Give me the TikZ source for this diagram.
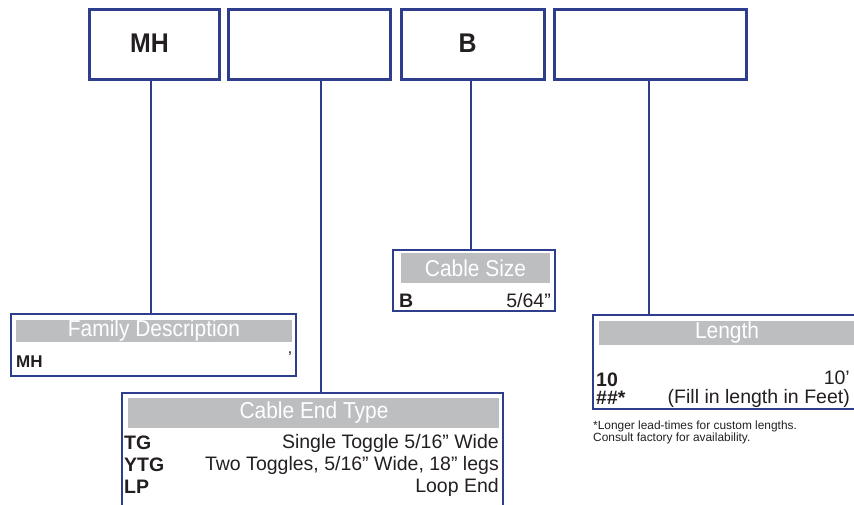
\documentclass[tikz,border=0pt]{standalone}
\usepackage{fontspec}
\setmainfont{Liberation Sans}
\definecolor{navy}{RGB}{46,62,140}
\definecolor{hdrgray}{RGB}{188,190,192}
\definecolor{ink}{RGB}{35,31,32}
\newcommand{\hcond}[1]{\scalebox{0.91}[1]{#1}}
\newcommand{\bcond}[1]{\scalebox{0.92}[1]{#1}}
\begin{document}
\begin{tikzpicture}[x=1pt,y=-1pt,
  topbox/.style={draw=navy,line width=2.6pt,minimum width=#1,minimum height=70pt,inner sep=0pt,anchor=north west},
  toptxt/.style={inner sep=0pt,font=\fontsize{27}{27}\selectfont\bfseries,text=ink},
  conn/.style={draw=navy,line width=1.3pt},
  infobox/.style={draw=navy,line width=1.3pt},
  hdr/.style={fill=hdrgray},
  hdrtxt/.style={text=white,inner sep=0pt,font=\fontsize{23}{23}\selectfont},
  rowl/.style={anchor=west,inner sep=0pt,text=ink,font=\fontsize{#1}{#1}\selectfont\bfseries},
  rowr/.style={anchor=east,inner sep=0pt,text=ink,font=\fontsize{#1}{#1}\selectfont},
  note/.style={anchor=north west,inner sep=0pt,text=ink,align=left,font=\fontsize{11.9}{12}\selectfont}]
\useasboundingbox (0,0) rectangle (854,504);
% top code boxes
\node[topbox=130pt] (b1) at (88,8) {};
\node[topbox=162pt] (b2) at (227,8) {};
\node[topbox=143pt] (b3) at (400,8) {};
\node[topbox=192pt] (b4) at (553,8) {};
\node[toptxt] (t1) at (149.5,43) {\bcond{MH}};
\node[toptxt] (t3) at (467.5,43) {\bcond{B}};
% family description
\coordinate (f1) at (11,314);
\coordinate (f2) at (296,376);
\draw[infobox] (f1) rectangle (f2);
\fill[hdr] (16,320) rectangle (292,342);
\node[hdrtxt] (ft) at (154,331) {\hcond{Family Description}};
\node[rowl=17] (fr1) at (16,362) {MH};
\node[rowr=17] (fr2) at (292,358) {’};
% cable end type
\coordinate (c1) at (122,393);
\draw[infobox] (122,506) -- (c1) -- (503,393) -- (503,506);
\fill[hdr] (128,398) rectangle (499,428);
\node[hdrtxt] (ct) at (314,413) {\hcond{Cable End Type}};
\node[rowl=19.5] (cr1) at (124,443) {TG};
\node[rowr=19.5] (cr2) at (499,443) {Single Toggle 5/16” Wide};
\node[rowl=19.5] (cr3) at (124,465) {YTG};
\node[rowr=19.5] (cr4) at (499,465) {Two Toggles, 5/16” Wide, 18” legs};
\node[rowl=19.5] (cr5) at (124,487) {LP};
\node[rowr=19.5] (cr6) at (499,487) {Loop End};
% cable size
\coordinate (s1) at (393,250);
\draw[infobox] (s1) rectangle (555,311);
\fill[hdr] (401,253) rectangle (550,283);
\node[hdrtxt] (st) at (475.5,268) {\hcond{Cable Size}};
\node[rowl=19.5] (sr1) at (399,301) {B};
\node[rowr=19.5] (sr2) at (551,301) {5/64”};
% length
\coordinate (l1) at (593,315);
\draw[infobox] (856,315) -- (l1) -- (593,409) -- (856,409);
\fill[hdr] (599,321) rectangle (856,345);
\node[hdrtxt] (lt) at (727,333) {\hcond{Length}};
\node[rowl=19.5] (lr1) at (596,380) {10};
\node[rowr=19.5] (lr2) at (850,378) {10’};
\node[rowl=19.5] (lr3) at (596,398) {\#\#*};
\node[rowr=19.5] (lr4) at (850,398) {(Fill in length in Feet)};
\node[note] (nt) at (593,421) {*Longer lead-times for custom lengths.\\Consult factory for availability.};
% connectors
\draw[conn] (b1.south -| 151,0) -- (151,314);
\draw[conn] (b2.south -| 321,0) -- (321,393);
\draw[conn] (b3.south -| 471,0) -- (471,250);
\draw[conn] (b4.south -| 649,0) -- (649,315);
\end{tikzpicture}
\end{document}
